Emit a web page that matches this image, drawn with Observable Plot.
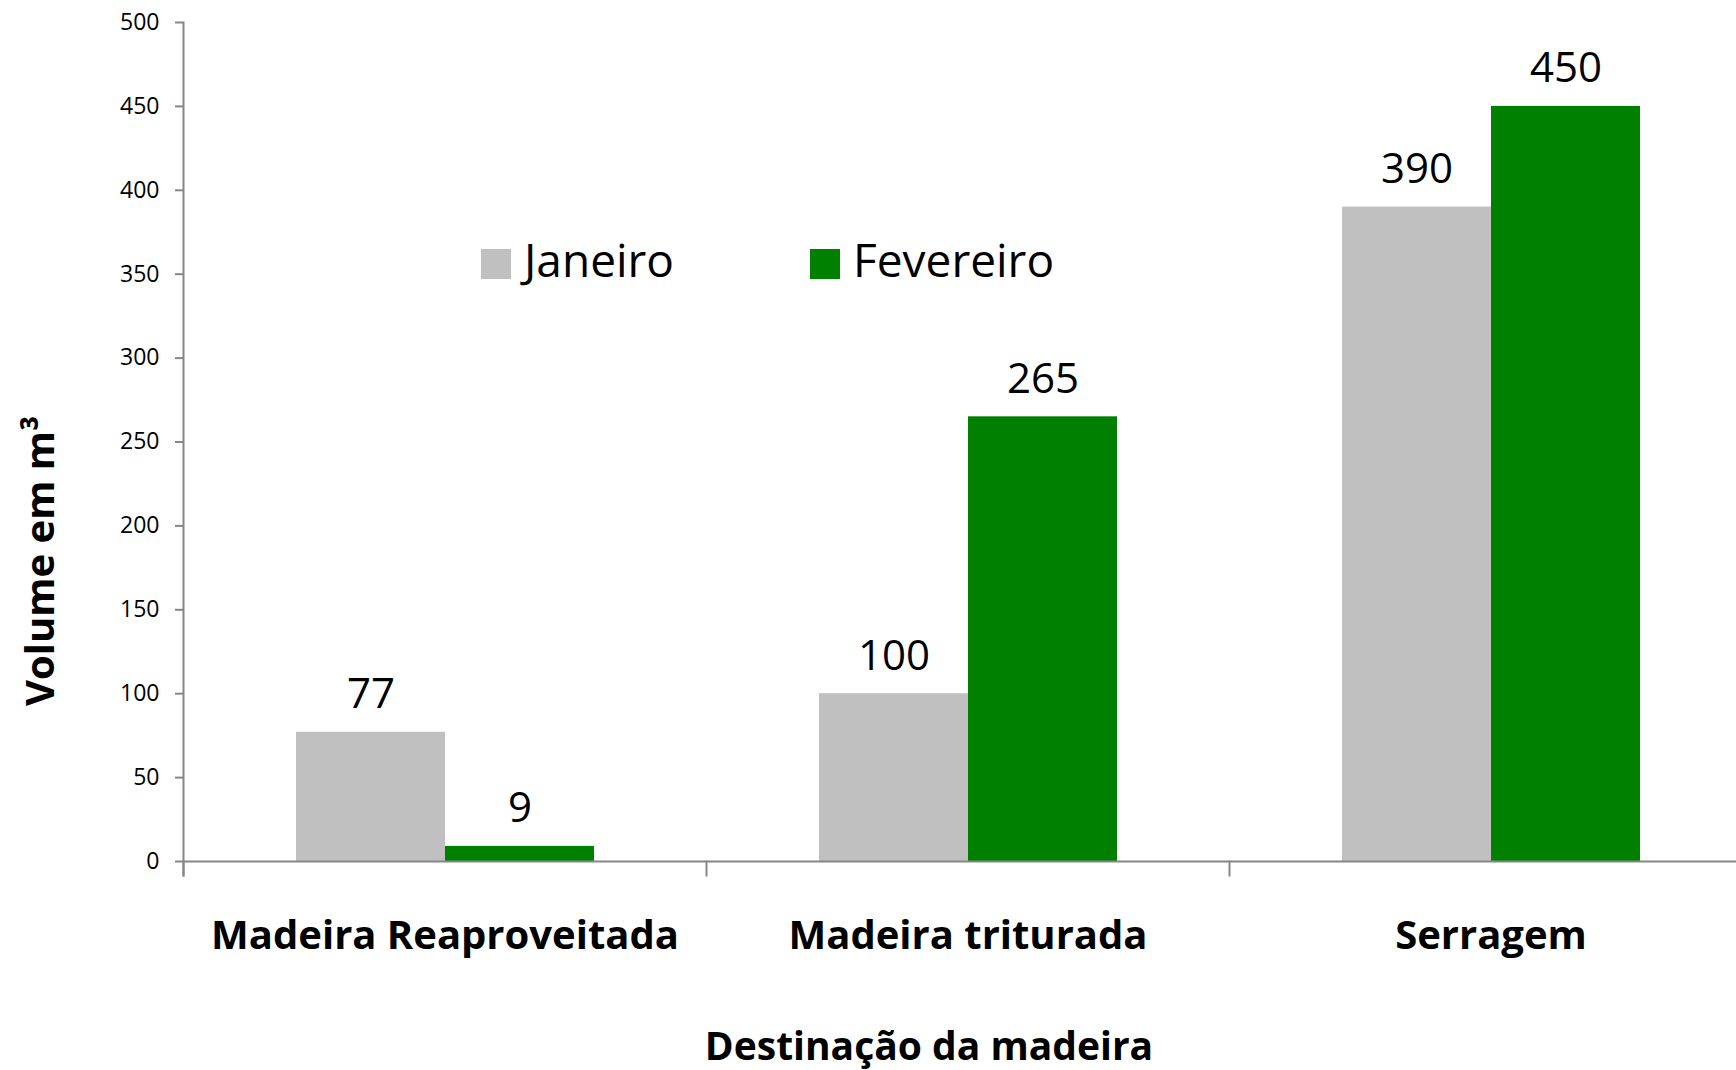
<!DOCTYPE html>
<html><head><meta charset="utf-8">
<script src="https://cdn.jsdelivr.net/npm/d3@7"></script>
<script src="https://cdn.jsdelivr.net/npm/@observablehq/plot@0.6"></script>
<style>
html,body{margin:0;padding:0;background:#fff;overflow:hidden}
#chart{position:relative;width:1736px;height:1070px;font-family:"Open Sans",sans-serif}
.leg{position:absolute;display:flex;align-items:flex-start;font-size:46px;color:#000;line-height:1;white-space:nowrap}
.sw{width:30px;height:30px;margin-top:13px;margin-right:13px}
</style></head>
<body><div id="chart"></div>
<script>
const categories = ["Madeira Reaproveitada", "Madeira triturada", "Serragem"];
const series = ["Janeiro", "Fevereiro"];
const janeiro = [77, 100, 390];
const fevereiro = [9, 265, 450];
const colors = ["#C0C0C0", "#008000"];
const yTicks = [0, 50, 100, 150, 200, 250, 300, 350, 400, 450, 500];
const yTitle = "Volume em m³";
const xTitle = "Destinação da madeira";

const rows = categories.flatMap((c, i) => [
  {categoria: c, mes: series[0], valor: janeiro[i]},
  {categoria: c, mes: series[1], valor: fevereiro[i]}
]);

const axisGray = "#868686";

const chart = Plot.plot({
  width: 1736, height: 1070,
  marginLeft: 183, marginRight: -16, marginTop: 22, marginBottom: 209,
  style: {fontFamily: "Open Sans", background: "transparent", overflow: "visible"},
  fx: {domain: categories, padding: 0, label: null},
  x: {domain: series, paddingInner: 0, paddingOuter: 0.755, axis: null},
  y: {domain: [0, 500], label: null},
  color: {domain: series, range: colors},
  marks: [
    Plot.barY(rows, {fx: "categoria", x: "mes", y: "valor", fill: "mes"}),
    Plot.frame({facet: "super", anchor: "left", stroke: axisGray, strokeWidth: 2, insetBottom: -14}),
    Plot.frame({anchor: "left", stroke: axisGray, strokeWidth: 2, insetTop: 839, insetBottom: -14}),
    Plot.ruleY([0], {stroke: axisGray, strokeWidth: 2}),
    Plot.text(rows, {fx: "categoria", x: "mes", y: "valor", text: "valor", dy: -24, lineAnchor: "bottom", fontSize: 42, fill: "#000"}),
    Plot.axisY({ticks: yTicks, tickSize: 8, tickPadding: 16, fontSize: 23, stroke: axisGray, strokeWidth: 2, label: null}),
    Plot.axisFx({anchor: "bottom", tickSize: 0, tickPadding: 59, fontSize: 40, fontWeight: "bold", label: null}),
    Plot.text([yTitle], {facet: "super", frameAnchor: "left", rotate: -90, dx: -142, dy: 264, fontSize: 40, fontWeight: "bold", fill: "#000"}),
    Plot.text([xTitle], {facet: "super", frameAnchor: "bottom", dx: -39, dy: 198, fontSize: 39, fontWeight: "bold", fill: "#000"})
  ]
});

const root = document.getElementById("chart");
root.appendChild(chart);

const legendPos = [481, 810];
series.forEach((s, i) => {
  const item = document.createElement("div");
  item.className = "leg";
  item.style.left = legendPos[i] + "px";
  item.style.top = "236px";
  const sw = document.createElement("div");
  sw.className = "sw";
  sw.style.background = colors[i];
  const t = document.createElement("span");
  t.textContent = s;
  item.appendChild(sw);
  item.appendChild(t);
  root.appendChild(item);
});
</script></body></html>
